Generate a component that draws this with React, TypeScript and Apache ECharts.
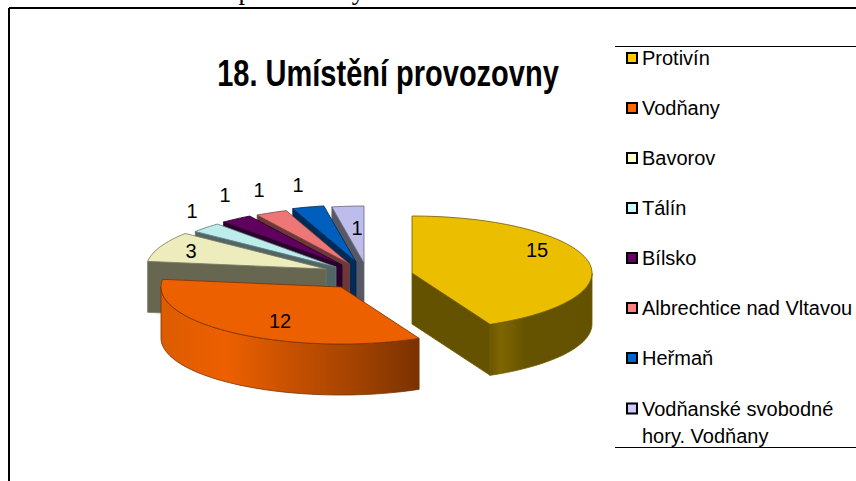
import React, { useEffect, useRef } from "react";
import * as echarts from "echarts";

const categories = ["Protivín", "Vodňany", "Bavorov", "Tálín", "Bílsko", "Albrechtice nad Vltavou", "Heřmaň", "Vodňanské svobodné hory. Vodňany"];
const values = [15, 12, 3, 1, 1, 1, 1, 1];

const legendColors = ["#FFCC00", "#FF6600", "#FFFFCC", "#CCFFFF", "#660066", "#FF8080", "#0066CC", "#CCCCFF"];
const topColors = ["#EBBF00", "#ED6000", "#ECECBD", "#BCECEC", "#5F005F", "#ED7676", "#005FBD", "#BDBDEC"];
const faceColors = ["#655200", "#8A3A00", "#666651", "#516666", "#2C002C", "#6E3838", "#002B57", "#575766"];
const edgeColors = ["#6E5A00", "#7A3200", "#77775E", "#5F7777", "#1F001F", "#7E4040", "#00264D", "#66667A"];
const apexX = [412, 341, 326, 336, 342, 349.5, 356, 364];
const apexY = [273, 287, 269, 267, 265, 264, 262, 263];
const labelX = [537, 280, 191, 192, 225, 259, 298, 357];
const labelY = [250, 321, 251, 211, 195, 190, 185, 228];
const paintRank = [7, 8, 6, 5, 4, 3, 2, 1];

const RX = 180;
const RY = 57;
const DEPTH = 51;

const wallStops: Record<number, [number, string][]> = {
  0: [[0, "#6A5600"], [0.1, "#7E6700"], [0.35, "#665300"], [1, "#655200"]],
  1: [[0, "#DC5C00"], [0.25, "#ED6000"], [0.5, "#C85100"], [0.8, "#9C4000"], [1, "#7A3200"]],
};

const total = values.reduce((a, b) => a + b, 0);
const rad = (d: number) => (d * Math.PI) / 180;

function sliceItem(index: number) {
  const before = values.slice(0, index).reduce((a, b) => a + b, 0);
  const a0 = (before / total) * 360;
  const a1 = ((before + values[index]) / total) * 360;
  const cx = apexX[index];
  const cy = apexY[index];
  const at = (deg: number, drop = 0) => [cx + RX * Math.sin(rad(deg)), cy - RY * Math.cos(rad(deg)) + drop];
  const arc = (from: number, to: number, drop = 0) => {
    const out: number[][] = [];
    const n = Math.max(2, Math.ceil(Math.abs(to - from) / 2));
    for (let i = 0; i <= n; i++) out.push(at(from + ((to - from) * i) / n, drop));
    return out;
  };
  const children: any[] = [];
  const line = { stroke: edgeColors[index], lineWidth: 0.8 };
  const face = (deg: number) => {
    children.push({
      type: "polygon",
      shape: { points: [[cx, cy], at(deg), at(deg, DEPTH), [cx, cy + DEPTH]] },
      style: { fill: faceColors[index], ...line },
    });
  };
  if (Math.sin(rad(a0)) < -0.001) face(a0);
  if (Math.sin(rad(a1)) > 0.001) face(a1);
  const w0 = Math.max(a0, 90);
  const w1 = Math.min(a1, 270);
  if (w1 > w0) {
    const pts = [...arc(w0, w1), ...arc(w1, w0, DEPTH)];
    const xs = pts.map((p) => p[0]);
    const minX = Math.min(...xs);
    const maxX = Math.max(...xs);
    const stops = wallStops[index];
    const fill = stops
      ? new echarts.graphic.LinearGradient(minX, 0, maxX, 0, stops.map(([offset, color]) => ({ offset, color })), true)
      : faceColors[index];
    children.push({
      type: "polygon",
      shape: { points: pts },
      style: { fill, ...line },
    });
  }
  children.push({
    type: "polygon",
    shape: { points: [[cx, cy], ...arc(a0, a1)] },
    style: { fill: topColors[index], ...line },
  });
  children.push({
    type: "text",
    style: {
      text: String(values[index]),
      x: labelX[index],
      y: labelY[index],
      align: "center",
      verticalAlign: "middle",
      fontFamily: "Liberation Sans",
      fontSize: 20,
      fill: "#000",
    },
  });
  return { type: "group", children };
}

export default function App() {
  const ref = useRef<HTMLDivElement>(null);
  useEffect(() => {
    document.body.style.margin = "0";
    const chart = echarts.init(ref.current!, undefined, { renderer: "svg" });
    const legendBase = {
      orient: "vertical",
      left: 621,
      icon: "rect",
      itemWidth: 10,
      itemHeight: 10,
      selectedMode: false,
      itemStyle: { borderColor: "#000", borderWidth: 2 },
      textStyle: { fontFamily: "Liberation Sans", fontSize: 20, color: "#000", lineHeight: 24 },
    };
    chart.setOption({
      animation: false,
      backgroundColor: "#fff",
      legend: [
        { ...legendBase, top: 41, itemGap: 26, data: categories.slice(0, 7) },
        {
          ...legendBase,
          top: 363,
          data: categories.slice(7),
          formatter: () => "\nVodňanské svobodné\nhory. Vodňany",
          textStyle: { ...legendBase.textStyle, lineHeight: 27 },
        },
      ],
      graphic: [
        { type: "line", shape: { x1: 9, y1: 8, x2: 856, y2: 8 }, style: { stroke: "#000", lineWidth: 2 } },
        { type: "line", shape: { x1: 9, y1: 8, x2: 9, y2: 481 }, style: { stroke: "#000", lineWidth: 2 } },
        { type: "line", shape: { x1: 615, y1: 46.5, x2: 856, y2: 46.5 }, style: { stroke: "#000", lineWidth: 1 } },
        { type: "line", shape: { x1: 615, y1: 447.5, x2: 856, y2: 447.5 }, style: { stroke: "#000", lineWidth: 1 } },
        {
          type: "text", x: 388, y: 73, scaleY: 1.3,
          style: { text: "18. Umístění provozovny", align: "center", verticalAlign: "middle", fontFamily: "Liberation Sans", fontWeight: "bold", fontSize: 29, fill: "#000" },
        },
        {
          type: "text", x: 14, y: -24,
          style: { text: "Graf č. 18: Umístění provozovny", fontFamily: "Liberation Serif", fontSize: 26.5, fill: "#000" },
        },
      ],
      series: categories.map((name, i) => ({
        type: "custom",
        name,
        coordinateSystem: "none",
        z: 2 + paintRank[i],
        silent: true,
        itemStyle: { color: legendColors[i] },
        data: [[values[i]]],
        renderItem: () => sliceItem(i),
      })),
    });
    return () => chart.dispose();
  }, []);
  return <div ref={ref} style={{ width: 856, height: 481 }} />;
}
